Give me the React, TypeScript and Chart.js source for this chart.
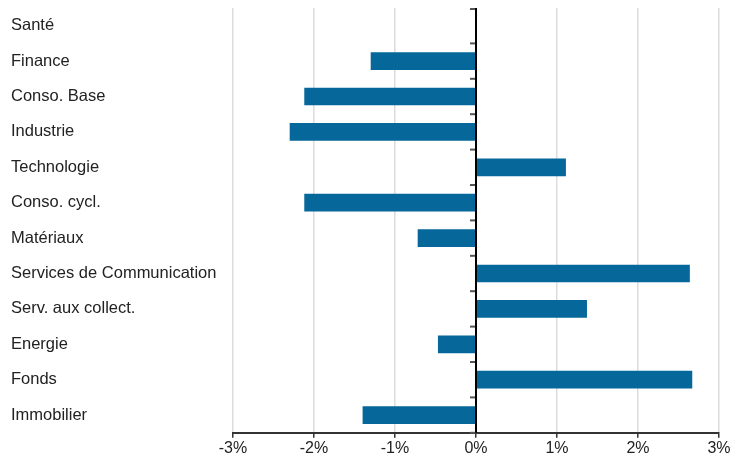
import React, { useEffect, useRef } from "react";
import { Chart, registerables } from "chart.js";

Chart.register(...registerables);

const categories = [
  "Santé",
  "Finance",
  "Conso. Base",
  "Industrie",
  "Technologie",
  "Conso. cycl.",
  "Matériaux",
  "Services de Communication",
  "Serv. aux collect.",
  "Energie",
  "Fonds",
  "Immobilier",
];

const values = [0, -1.3, -2.12, -2.3, 1.11, -2.12, -0.72, 2.64, 1.37, -0.47, 2.67, -1.4];

const xMin = -3;
const xMax = 3;

const BAR_COLOR = "#05679a";
const FONT = "'Liberation Sans', Arial, sans-serif";

const zeroLinePlugin = {
  id: "zeroLine",
  afterDatasetsDraw(chart: any) {
    const { ctx, chartArea, scales } = chart;
    const x0 = scales.x.getPixelForValue(0);
    const yScale = scales.y;
    ctx.save();
    ctx.strokeStyle = "#555555";
    ctx.lineWidth = 2;
    const n = yScale.ticks.length;
    const step = yScale.getPixelForTick(1) - yScale.getPixelForTick(0);
    for (let i = 0; i <= n; i++) {
      const y = i < n ? yScale.getPixelForTick(i) - step / 2 : chartArea.bottom;
      ctx.beginPath();
      ctx.moveTo(x0 - 6, Math.max(y, chartArea.top + 1));
      ctx.lineTo(x0, Math.max(y, chartArea.top + 1));
      ctx.stroke();
    }
    ctx.strokeStyle = "#000000";
    ctx.lineWidth = 2;
    ctx.beginPath();
    ctx.moveTo(x0, chartArea.top);
    ctx.lineTo(x0, chartArea.bottom);
    ctx.stroke();
    ctx.restore();
  },
};

export default function App() {
  const ref = useRef<HTMLCanvasElement | null>(null);

  useEffect(() => {
    if (!ref.current) return;
    const chart = new Chart(ref.current, {
      type: "bar",
      data: {
        labels: categories,
        datasets: [
          {
            data: values,
            backgroundColor: BAR_COLOR,
            borderWidth: 0,
            barPercentage: 0.5,
            categoryPercentage: 1,
          },
        ],
      },
      options: {
        indexAxis: "y",
        animation: false,
        responsive: false,
        maintainAspectRatio: false,
        layout: { padding: { left: 11, right: 23, top: 8, bottom: 4 } },
        plugins: {
          legend: { display: false },
          tooltip: { enabled: false },
        },
        scales: {
          x: {
            min: xMin,
            max: xMax,
            ticks: {
              stepSize: 1,
              color: "#222222",
              font: { family: FONT, size: 16 },
              padding: 1,
              callback: (v: any) => `${v}%`,
            },
            grid: {
              color: "#dcdcdc",
              lineWidth: 1.5,
              tickColor: "#333333",
              tickLength: 5,
              drawTicks: true,
            },
            border: { display: true, color: "#333333", width: 2 },
          },
          y: {
            ticks: {
              crossAlign: "far",
              color: "#222222",
              font: { family: FONT, size: 16.5 },
            },
            grid: { display: false, drawTicks: false },
            border: { display: false },
            afterFit: (scale: any) => {
              scale.width = 222;
              scale.paddingTop = 0;
              scale.paddingBottom = 0;
            },
          },
        },
      },
      plugins: [zeroLinePlugin],
    });
    return () => chart.destroy();
  }, []);

  return (
    <div style={{ position: "fixed", left: 0, top: 0, width: 742, height: 463, background: "#fff" }}>
      <canvas ref={ref} width={742} height={463} style={{ display: "block" }} />
    </div>
  );
}
